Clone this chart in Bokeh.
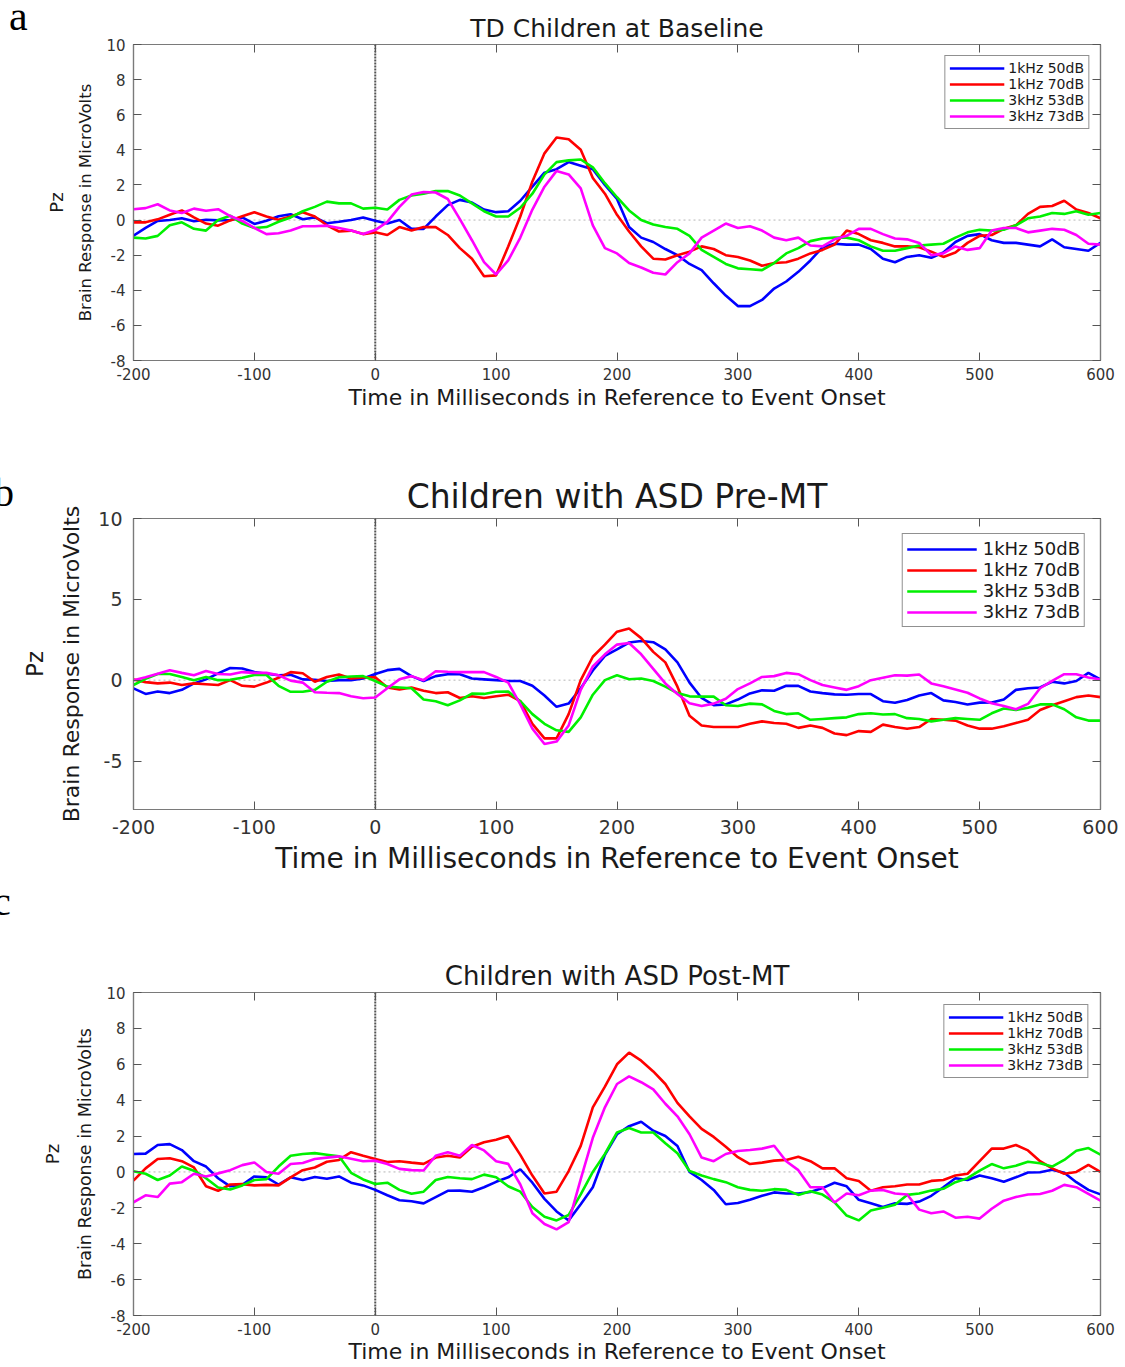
import numpy as np
from bokeh.plotting import figure
from bokeh.models import (Span, Legend, LegendItem, LinearAxis,
                          FixedTicker, Range1d, Div)
from bokeh.layouts import column, row
from bokeh.embed import file_html
from bokeh.resources import INLINE

# ---------------- data ----------------
time_ms = list(range(-200, 601, 10))
x_ticks = [-200, -100, 0, 100, 200, 300, 400, 500, 600]
y_ticks_ac = [-8, -6, -4, -2, 0, 2, 4, 6, 8, 10]
y_ticks_b = [-5, 0, 5, 10]
series_names = ["1kHz 50dB", "1kHz 70dB", "3kHz 53dB", "3kHz 73dB"]
series_colors = ["#0000ff", "#ff0000", "#00f000", "#ff00ff"]

# Panel a: TD Children at Baseline
a_1k50 = [-0.89, -0.45, -0.05, 0.0, 0.1, -0.07, 0.02, -0.02, 0.0, 0.15,
          -0.22, -0.04, 0.22, 0.33, 0.05, 0.15, -0.18, -0.1, 0.0, 0.15,
          -0.04, -0.2, 0.0, -0.5, -0.5, 0.2, 0.85, 1.15, 1.0, 0.6,
          0.45, 0.5, 1.1, 1.9, 2.7, 2.9, 3.3, 3.1, 2.9, 2.0,
          1.2,
          -0.4, -1.0, -1.25, -1.65, -2.0, -2.5, -2.85, -3.6, -4.3, -4.9,
          -4.9, -4.55, -3.9, -3.5, -2.95, -2.3, -1.55, -1.35, -1.4, -1.4,
          -1.65, -2.2, -2.4, -2.1, -2.0, -2.15, -1.85, -1.25, -0.9, -0.8,
          -1.15, -1.3, -1.3, -1.4, -1.5, -1.1, -1.55, -1.65, -1.75, -1.3]
a_1k70 = [-0.13, -0.13, 0.04, 0.3, 0.55, 0.15, -0.2, -0.32, -0.02, 0.22,
          0.45, 0.2, 0.02, 0.2, 0.45, 0.2, -0.3, -0.65, -0.6, -0.8,
          -0.7, -0.85, -0.4, -0.6, -0.4, -0.4, -0.85, -1.6, -2.2, -3.2,
          -3.15, -1.5, 0.2, 2.2, 3.8, 4.7, 4.6, 4.0, 2.4, 1.5,
          0.3,
          -0.65, -1.5, -2.2, -2.25, -2.0, -1.8, -1.5, -1.65, -2.0, -2.1,
          -2.3, -2.6, -2.45, -2.4, -2.2, -1.9, -1.7, -1.4, -0.6, -0.8,
          -1.15, -1.3, -1.5, -1.5, -1.55, -1.8, -2.1, -1.85, -1.3, -0.9,
          -0.85, -0.5, -0.3, 0.35, 0.75, 0.8, 1.1, 0.6, 0.4, 0.1]
a_3k53 = [-1.0, -1.05, -0.9, -0.3, -0.13, -0.5, -0.6, 0.0, 0.25, -0.2,
          -0.45, -0.4, -0.1, 0.15, 0.5, 0.75, 1.05, 0.95, 0.95, 0.65,
          0.7, 0.6, 1.15, 1.4, 1.5, 1.65, 1.65, 1.4, 0.95, 0.5,
          0.2, 0.2, 0.7, 1.5, 2.6, 3.3, 3.4, 3.45, 3.0, 2.1,
          1.3,
          0.55, 0.0, -0.25, -0.4, -0.5, -0.9, -1.7, -2.1, -2.5, -2.75,
          -2.8, -2.85, -2.45, -1.9, -1.6, -1.2, -1.05, -1.0, -1.0, -1.15,
          -1.5, -1.75, -1.75, -1.6, -1.45, -1.4, -1.35, -1.0, -0.7, -0.55,
          -0.6, -0.55, -0.3, 0.1, 0.2, 0.4, 0.35, 0.5, 0.3, 0.4]
a_3k73 = [0.62, 0.68, 0.9, 0.55, 0.4, 0.65, 0.53, 0.62, 0.23, -0.05,
          -0.45, -0.8, -0.75, -0.6, -0.35, -0.35, -0.32, -0.45, -0.6, -0.8,
          -0.57, -0.1, 0.75, 1.45, 1.6, 1.57, 1.2, 0.05, -1.15, -2.4,
          -3.1, -2.3, -1.0, 0.6, 1.9, 2.8, 2.6, 1.8, -0.3, -1.6,
          -1.9,
          -2.45, -2.7, -3.0, -3.1, -2.4, -1.9, -1.0, -0.6, -0.2, -0.45,
          -0.35, -0.6, -1.0, -1.15, -1.0, -1.45, -1.5, -1.1, -0.9, -0.5,
          -0.5, -0.8, -1.05, -1.1, -1.3, -2.0, -1.9, -1.5, -1.7, -1.6,
          -0.6, -0.45, -0.45, -0.7, -0.6, -0.5, -0.55, -0.85, -1.35, -1.4]

# Panel b: Children with ASD Pre-MT
b_1k50 = [-0.51, -0.85, -0.7, -0.8, -0.6, -0.2, 0.05, 0.42, 0.75, 0.72,
          0.5, 0.4, 0.3, 0.33, 0.05, 0.03, -0.05, 0.0, 0.0, 0.1,
          0.38, 0.62, 0.7, 0.25, -0.05, 0.25, 0.37, 0.37, 0.1, 0.05,
          0.0, -0.05, -0.05, -0.35, -0.95, -1.65, -1.45, -0.5, 0.6, 1.5,
          1.9,
          2.33, 2.42, 2.35, 1.9, 1.1, -0.15, -1.1, -1.55, -1.5, -1.2,
          -0.82, -0.63, -0.65, -0.35, -0.35, -0.7, -0.8, -0.88, -0.9, -0.86,
          -0.86, -1.3, -1.4, -1.23, -0.95, -0.8, -1.25, -1.35, -1.5, -1.39,
          -1.38, -1.2, -0.6, -0.5, -0.45, -0.1, -0.2, -0.05, 0.45, 0.04]
b_1k70 = [0.04, -0.12, -0.2, -0.15, -0.3, -0.2, -0.25, -0.3, 0.0, -0.35,
          -0.4, -0.15, 0.15, 0.5, 0.43, -0.1, 0.2, 0.35, 0.1, 0.17,
          0.18, -0.45, -0.58, -0.45, -0.65, -0.8, -0.75, -1.1, -1.0, -1.1,
          -1.0, -0.9, -1.3, -2.7, -3.6, -3.6, -2.1, 0.0, 1.45, 2.2,
          3.0,
          3.2, 2.6, 1.75, 1.1, -0.4, -2.2, -2.8, -2.9, -2.9, -2.9,
          -2.7, -2.55, -2.65, -2.7, -2.95, -2.8, -2.95, -3.3, -3.4, -3.15,
          -3.2, -2.75, -2.9, -3.0, -2.9, -2.4, -2.45, -2.5, -2.8, -3.0,
          -3.0, -2.85, -2.65, -2.45, -1.85, -1.55, -1.3, -1.05, -0.95, -1.05]
b_3k53 = [-0.3, 0.08, 0.38, 0.38, 0.2, 0.0, 0.2, 0.0, 0.02, 0.15,
          0.32, 0.32, -0.35, -0.72, -0.72, -0.6, -0.1, 0.18, 0.23, 0.25,
          -0.05, -0.4, -0.45, -0.5, -1.2, -1.3, -1.55, -1.25, -0.83, -0.85,
          -0.72, -0.7, -1.3, -2.1, -2.7, -3.1, -3.2, -2.3, -0.9, 0.0,
          0.3,
          0.06, 0.1, -0.05, -0.4, -0.8, -1.0, -1.02, -1.02, -1.55, -1.6,
          -1.45, -1.5, -1.9, -2.1, -2.05, -2.45, -2.4, -2.35, -2.3, -2.1,
          -2.05, -2.12, -2.1, -2.35, -2.4, -2.55, -2.45, -2.35, -2.4, -2.45,
          -2.05, -1.75, -1.85, -1.7, -1.5, -1.5, -1.8, -2.3, -2.5, -2.5]
b_3k73 = [0.0, 0.18, 0.4, 0.62, 0.45, 0.3, 0.57, 0.38, 0.35, 0.5,
          0.45, 0.45, 0.3, -0.03, -0.15, -0.75, -0.78, -0.8, -1.0, -1.12,
          -1.07, -0.5, 0.05, 0.25, 0.0, 0.55, 0.52, 0.5, 0.5, 0.5,
          0.2, -0.15, -1.5, -3.0, -3.95, -3.8, -2.8, -0.6, 0.85, 1.6,
          2.2,
          2.3, 1.6, 0.7, -0.2, -0.85, -1.43, -1.6, -1.45, -1.15, -0.55,
          -0.2, 0.2, 0.25, 0.45, 0.37, 0.0, -0.3, -0.45, -0.6, -0.37,
          0.0, 0.15, 0.3, 0.28, 0.35, -0.2, -0.37, -0.57, -0.78, -1.13,
          -1.43, -1.6, -1.8, -1.47, -0.5, -0.05, 0.37, 0.37, 0.16, 0.04]

# Panel c: Children with ASD Post-MT
c_1k50 = [1.0, 1.02, 1.5, 1.55, 1.22, 0.6, 0.3, -0.35, -0.8, -0.72,
          -0.25, -0.3, -0.7, -0.3, -0.45, -0.28, -0.38, -0.25, -0.6, -0.75,
          -1.0, -1.3, -1.58, -1.63, -1.75, -1.4, -1.05, -1.04, -1.1, -0.85,
          -0.55, -0.3, 0.15, -0.6, -1.5, -2.2, -2.7, -1.8, -0.85, 0.95,
          2.1,
          2.55, 2.8, 2.3, 2.0, 1.45, 0.0, -0.45, -1.0, -1.8, -1.73,
          -1.55, -1.33, -1.14, -1.2, -1.2, -1.12, -0.9, -0.6, -0.8, -1.55,
          -1.75, -1.95, -1.75, -1.78, -1.65, -1.33, -0.85, -0.35, -0.45, -0.2,
          -0.35, -0.55, -0.3, -0.03, -0.02, 0.12, -0.05, -0.57, -1.0, -1.25]
c_1k70 = [-0.48, 0.2, 0.72, 0.76, 0.6, 0.25, -0.8, -1.05, -0.7, -0.68,
          -0.75, -0.72, -0.75, -0.3, 0.1, 0.25, 0.57, 0.67, 1.1, 0.9,
          0.72, 0.55, 0.6, 0.52, 0.45, 0.8, 0.9, 0.8, 1.4, 1.65,
          1.8, 2.0, 0.95, -0.2, -1.2, -1.1, 0.05, 1.45, 3.6, 4.75,
          6.0,
          6.65, 6.2, 5.6, 4.9, 3.85, 3.1, 2.4, 1.95, 1.4, 0.82,
          0.44, 0.52, 0.63, 0.67, 0.85, 0.6, 0.2, 0.2, -0.35, -0.5,
          -1.05, -0.85, -0.8, -0.7, -0.7, -0.5, -0.45, -0.2, -0.1, 0.6,
          1.3, 1.3, 1.5, 1.2, 0.6, 0.2, -0.1, 0.0, 0.4, 0.0]
c_3k53 = [0.04, -0.1, -0.45, -0.2, 0.3, 0.07, -0.35, -0.87, -0.98, -0.75,
          -0.45, -0.4, 0.3, 0.9, 1.0, 1.05, 0.96, 0.87, -0.05, -0.42,
          -0.67, -0.6, -1.0, -1.22, -1.1, -0.45, -0.28, -0.35, -0.4, -0.15,
          -0.3, -0.8, -1.1, -1.95, -2.5, -2.7, -2.4, -1.25, 0.0, 1.0,
          2.2,
          2.45, 2.2, 2.2, 1.6, 1.04, 0.05, -0.2, -0.4, -0.57, -0.85,
          -1.0, -1.05, -0.96, -1.0, -1.28, -1.07, -1.26, -1.7, -2.43, -2.7,
          -2.15, -2.0, -1.83, -1.28, -1.2, -1.04, -0.94, -0.57, -0.35, 0.07,
          0.44, 0.2, 0.35, 0.57, 0.48, 0.3, 0.67, 1.18, 1.33, 0.96]
c_3k73 = [-1.69, -1.3, -1.4, -0.65, -0.57, -0.1, -0.25, -0.08, 0.1, 0.38,
          0.53, 0.0, -0.1, 0.44, 0.5, 0.72, 0.8, 0.87, 0.74, 0.6,
          0.63, 0.44, 0.17, 0.1, 0.08, 0.9, 1.1, 0.9, 1.5, 1.2,
          0.6, 0.45, -0.7, -2.3, -2.9, -3.2, -2.8, -0.4, 1.9, 3.6,
          4.9,
          5.33, 5.0, 4.6, 3.8, 3.1, 2.1, 0.8, 0.6, 1.0, 1.17,
          1.22, 1.3, 1.46, 0.6, 0.1, -0.85, -0.85, -1.7, -1.2, -1.3,
          -1.04, -1.0, -1.2, -1.26, -2.1, -2.3, -2.2, -2.55, -2.5, -2.6,
          -2.05, -1.6, -1.4, -1.26, -1.23, -1.05, -0.72, -0.85, -1.22, -1.6]

# ---------------- styling ----------------
FONT = "DejaVu Sans"
SERIF = "Liberation Serif"
TXT = "#1a1a1a"
AXC = "#7a7a7a"

panels = [
    dict(title="TD Children at Baseline", data=[a_1k50, a_1k70, a_3k53, a_3k73],
         yticks=y_ticks_ac, width=1085, left=93, height=470, top=44, bottom=110,
         tick_fs=15, xstand=7, ystand=8, title_fs=25, title_so=4,
         xlab_fs=22, xlab_so=2, ylab_fs=16.5, ylab_so=8, pz_fs=18, pz_so=7,
         leg_fs=14, leg_gw=55, leg_so=4, leg_pad=4, leg_margin=11),
    dict(title="Children with ASD Pre-MT", data=[b_1k50, b_1k70, b_3k53, b_3k73],
         yticks=y_ticks_b, width=1109, left=117, height=474, top=48, bottom=135,
         tick_fs=19, xstand=10, ystand=11, title_fs=33, title_so=5,
         xlab_fs=28, xlab_so=5, ylab_fs=22, ylab_so=11, pz_fs=23, pz_so=9,
         leg_fs=18, leg_gw=70, leg_so=6, leg_pad=4, leg_margin=15),
    dict(title="Children with ASD Post-MT", data=[c_1k50, c_1k70, c_3k53, c_3k73],
         yticks=y_ticks_ac, width=1125, left=133, height=422, top=48, bottom=51,
         tick_fs=15, xstand=7, ystand=8, title_fs=26, title_so=4,
         xlab_fs=22, xlab_so=1, ylab_fs=17.5, ylab_so=8, pz_fs=18, pz_so=10,
         leg_fs=14, leg_gw=55, leg_so=4, leg_pad=4, leg_margin=12),
]


def style_axis(ax, ticks, fs, standoff, labels=True):
    ax.ticker = FixedTicker(ticks=ticks)
    ax.axis_line_color = AXC
    ax.axis_line_width = 1.2
    ax.major_tick_line_color = "#555555"
    ax.major_tick_in = 8
    ax.major_tick_out = 0
    ax.minor_tick_line_color = None
    ax.major_label_text_font = FONT
    ax.major_label_text_color = "#333333"
    if labels:
        ax.major_label_overrides = {t: str(t) for t in ticks}
        ax.major_label_text_font_size = f"{fs}px"
        ax.major_label_standoff = standoff
    else:
        ax.major_label_overrides = {t: "" for t in ticks}
        ax.major_label_text_font_size = "1px"
        ax.major_label_standoff = 0


figs = []
for spec in panels:
    p = figure(width=spec["width"], height=spec["height"],
               x_range=Range1d(-200, 600), y_range=Range1d(-8, 10),
               output_backend="svg", toolbar_location=None,
               min_border_left=spec["left"], min_border_right=25,
               min_border_top=spec["top"], min_border_bottom=spec["bottom"])
    p.title.text = spec["title"]
    p.title.align = "center"
    p.title.text_font = FONT
    p.title.text_font_style = "normal"
    p.title.text_font_size = f"{spec['title_fs']}px"
    p.title.text_color = TXT
    p.title.standoff = spec["title_so"]
    p.grid.visible = False
    p.outline_line_color = AXC
    p.outline_line_width = 1.2
    p.background_fill_color = "white"
    p.border_fill_color = "white"

    xa = p.xaxis[0]
    style_axis(xa, x_ticks, spec["tick_fs"], spec["xstand"])
    xa.axis_label = "Time in Milliseconds in Reference to Event Onset"
    xa.axis_label_text_font = FONT
    xa.axis_label_text_font_style = "normal"
    xa.axis_label_text_font_size = f"{spec['xlab_fs']}px"
    xa.axis_label_text_color = TXT
    xa.axis_label_standoff = spec["xlab_so"]

    ya = p.yaxis[0]
    style_axis(ya, spec["yticks"], spec["tick_fs"], spec["ystand"])
    ya.axis_label = "Brain Response in MicroVolts"
    ya.axis_label_text_font = FONT
    ya.axis_label_text_font_style = "normal"
    ya.axis_label_text_font_size = f"{spec['ylab_fs']}px"
    ya.axis_label_text_color = TXT
    ya.axis_label_standoff = spec["ylab_so"]

    # outer left axis only carrying the electrode name
    pz = LinearAxis()
    style_axis(pz, spec["yticks"], 0, 0, labels=False)
    pz.axis_line_color = None
    pz.major_tick_line_color = None
    pz.axis_label = "Pz"
    pz.axis_label_text_font = FONT
    pz.axis_label_text_font_style = "normal"
    pz.axis_label_text_font_size = f"{spec['pz_fs']}px"
    pz.axis_label_text_color = TXT
    pz.axis_label_standoff = spec["pz_so"]
    p.add_layout(pz, "left")

    top_ax = LinearAxis()
    style_axis(top_ax, x_ticks, 0, 0, labels=False)
    p.add_layout(top_ax, "above")
    right_ax = LinearAxis()
    style_axis(right_ax, spec["yticks"], 0, 0, labels=False)
    p.add_layout(right_ax, "right")

    p.add_layout(Span(location=0, dimension="width", line_color="#b5b5b5",
                      line_dash="2 3", line_width=1, level="underlay"))
    p.add_layout(Span(location=0, dimension="height", line_color="#555555",
                      line_dash="2 1", line_width=2, level="underlay"))

    items = []
    for name, col, vals in zip(series_names, series_colors, spec["data"]):
        r = p.line(time_ms, vals, line_color=col, line_width=2.6)
        items.append(LegendItem(label=name, renderers=[r]))

    leg = Legend(items=items, location="top_right")
    leg.margin = spec["leg_margin"]
    leg.padding = spec["leg_pad"]
    leg.spacing = 0
    leg.glyph_width = spec["leg_gw"]
    leg.glyph_height = spec["leg_fs"]
    leg.label_height = spec["leg_fs"]
    leg.label_standoff = spec["leg_so"]
    leg.label_text_font = FONT
    leg.label_text_font_size = f"{spec['leg_fs']}px"
    leg.label_text_color = TXT
    leg.border_line_color = "#222222"
    leg.border_line_width = 1
    leg.background_fill_color = "white"
    leg.background_fill_alpha = 1.0
    p.add_layout(leg)
    figs.append(p)


def letter_div(letters, width, height):
    spans = "".join(
        f'<span style="position:absolute;left:{lx}px;top:{ty}px;'
        f"font-family:'{SERIF}';font-size:{fs}px;line-height:{lh}px;"
        f'color:#000;">{ch}</span>'
        for ch, lx, ty, fs, lh in letters)
    html = (f'<div style="position:relative;width:{width}px;height:{height}px;">'
            f'{spans}</div>')
    return Div(text=html, width=width, height=height, margin=0)


div_a = letter_div([("a", 9, 1, 42, 30)], 40, 470)
div_b = letter_div([("b", -6, 3, 40, 40), ("c", -7, 412, 40, 40)], 16, 474)

layout = column(row(div_a, figs[0], spacing=0),
                row(div_b, figs[1], spacing=0),
                figs[2], spacing=0)
open("out.html", "w").write(file_html(layout, INLINE))
